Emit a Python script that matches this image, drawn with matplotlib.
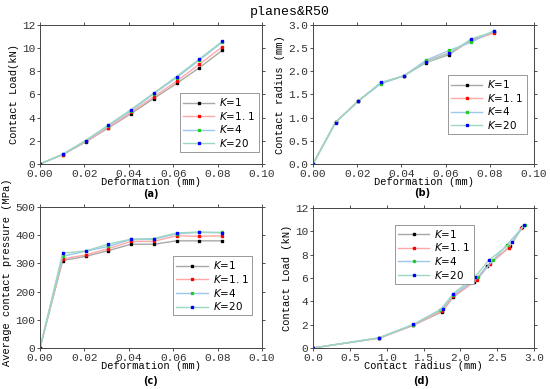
import matplotlib
matplotlib.use("Agg")
import matplotlib.pyplot as plt

MONO = "Liberation Mono"

# deformation (mm)
deform = [0, 0.0102, 0.0205, 0.0307, 0.041, 0.0512, 0.0615, 0.0717, 0.082]

labels = ["$K$=1", "$K$=1. 1", "$K$=4", "$K$=20"]

# (a) contact load (kN)
load_a = [
    [0, 0.80, 1.90, 3.10, 4.35, 5.65, 6.95, 8.30, 9.80],
    [0, 0.82, 1.95, 3.15, 4.45, 5.80, 7.15, 8.60, 10.10],
    [0, 0.83, 2.00, 3.30, 4.60, 6.05, 7.45, 8.95, 10.50],
    [0, 0.84, 2.02, 3.35, 4.70, 6.12, 7.55, 9.05, 10.58],
]

# (b) contact radius (mm)
radius = [
    [0, 0.90, 1.36, 1.75, 1.90, 2.19, 2.36, 2.68, 2.84],
    [0, 0.90, 1.36, 1.75, 1.90, 2.22, 2.40, 2.66, 2.83],
    [0, 0.90, 1.36, 1.73, 1.90, 2.24, 2.45, 2.63, 2.88],
    [0, 0.89, 1.36, 1.76, 1.90, 2.20, 2.39, 2.70, 2.86],
]

# (c) average contact pressure (MPa)
pressure = [
    [0, 310, 325, 345, 368, 368, 380, 380, 380],
    [0, 316, 330, 352, 378, 378, 398, 396, 398],
    [0, 325, 343, 360, 385, 385, 405, 410, 410],
    [0, 336, 344, 368, 386, 388, 408, 411, 408],
]

# (d) contact load (kN) vs contact radius
load_d = [
    [0, 0.85, 1.95, 3.10, 4.35, 5.70, 7.00, 8.75, 10.35],
    [0, 0.85, 1.93, 3.20, 4.45, 5.80, 7.20, 8.60, 10.30],
    [0, 0.86, 2.00, 3.30, 4.55, 6.05, 7.55, 8.85, 10.55],
    [0, 0.87, 2.02, 3.35, 4.65, 6.10, 7.55, 9.05, 10.55],
]

line_colors = ["#a8a8a8", "#ffa8a8", "#9cc8f0", "#9cd8c0"]
marker_colors = ["#000000", "#ff0000", "#22cc22", "#0000ff"]

fig = plt.figure(figsize=(5.5, 3.89), dpi=100)


def px_axes(left, top, right, bottom):
    return fig.add_axes([left / 550, 1 - bottom / 389, (right - left) / 550, (bottom - top) / 389])


def style(ax, xlim, ylim, xticks, yticks, xfmt, yfmt):
    ax.set_xlim(*xlim)
    ax.set_ylim(*ylim)
    ax.set_xticks(xticks)
    ax.set_yticks(yticks)
    ax.set_xticklabels([xfmt.format(v) for v in xticks], fontfamily=MONO, fontsize=8)
    ax.set_yticklabels([yfmt.format(v) for v in yticks], fontfamily=MONO, fontsize=8)
    ax.tick_params(direction="out", length=2.5, width=0.6, pad=1,
                   top=True, right=True, colors="#333333")
    for s in ax.spines.values():
        s.set_linewidth(0.7)
        s.set_color("#444444")


def draw(ax, xs, ys_list, legend_pos):
    for i in range(4):
        x = xs[i] if isinstance(xs[0], list) else xs
        ax.plot(x, ys_list[i], "-", color=line_colors[i], lw=1.0,
                marker="s", ms=1.5, mfc=marker_colors[i], mec=marker_colors[i],
                label=labels[i])
    leg = ax.legend(loc="upper left", bbox_to_anchor=legend_pos, fontsize=7.5,
                    fancybox=False, framealpha=1, edgecolor="#888888",
                    handlelength=3.0, handletextpad=0.5, labelspacing=0.15,
                    borderpad=0.3, borderaxespad=0)
    leg.get_frame().set_linewidth(0.6)


xt = [0, 0.02, 0.04, 0.06, 0.08, 0.10]

# (a)
ax = px_axes(40, 25, 262, 164)
draw(ax, deform, load_a, (0.63, 0.51))
style(ax, (0, 0.10), (0, 12), xt, [0, 2, 4, 6, 8, 10, 12], "{:.2f}", "{:d}")
ax.set_xlabel("Deformation (mm)", fontfamily=MONO, fontsize=7.5, labelpad=-1)
ax.set_ylabel("Contact Load(kN)", fontfamily=MONO, fontsize=7.5, labelpad=2)

# (b)
ax = px_axes(313, 25, 534, 164)
draw(ax, deform, radius, (0.61, 0.64))
style(ax, (0, 0.10), (0, 3.0), xt, [0, 0.5, 1.0, 1.5, 2.0, 2.5, 3.0], "{:.2f}", "{:.1f}")
ax.set_xlabel("Deformation (mm)", fontfamily=MONO, fontsize=7.5, labelpad=-1)
ax.set_ylabel("Contact radius (mm)", fontfamily=MONO, fontsize=7.5, labelpad=2)

# (c)
ax = px_axes(40, 207, 262, 348)
draw(ax, deform, pressure, (0.60, 0.65))
style(ax, (0, 0.10), (0, 500), xt, [0, 100, 200, 300, 400, 500], "{:.2f}", "{:d}")
ax.set_xlabel("Deformation (mm)", fontfamily=MONO, fontsize=7.5, labelpad=-1)
ax.set_ylabel("Average contact pressure (MPa)", fontfamily=MONO, fontsize=7.5, labelpad=2)
ax.yaxis.set_label_coords(-0.125, 0.54)

# (d)
ax = px_axes(313, 208, 534, 348)
draw(ax, radius, load_d, (0.37, 0.88))
style(ax, (0, 3.0), (0, 12), [0, 0.5, 1.0, 1.5, 2.0, 2.5, 3.0], [0, 2, 4, 6, 8, 10, 12],
      "{:.1f}", "{:d}")
ax.set_xlabel("Contact radius (mm)", fontfamily=MONO, fontsize=7.5, labelpad=-1)
ax.set_ylabel("Contact Load (kN)", fontfamily=MONO, fontsize=7.5, labelpad=2)

fig.text(290 / 550, 1 - 12 / 389, "planes&R50", ha="center", va="center",
         fontfamily=MONO, fontsize=9.5)
for txt, x, y in [("(a)", 151, 194), ("(b)", 422, 193), ("(c)", 150, 381), ("(d)", 421, 381)]:
    fig.text(x / 550, 1 - y / 389, txt, ha="center", va="center",
             fontsize=7, fontweight="bold")

fig.savefig("out.png", dpi=100)
